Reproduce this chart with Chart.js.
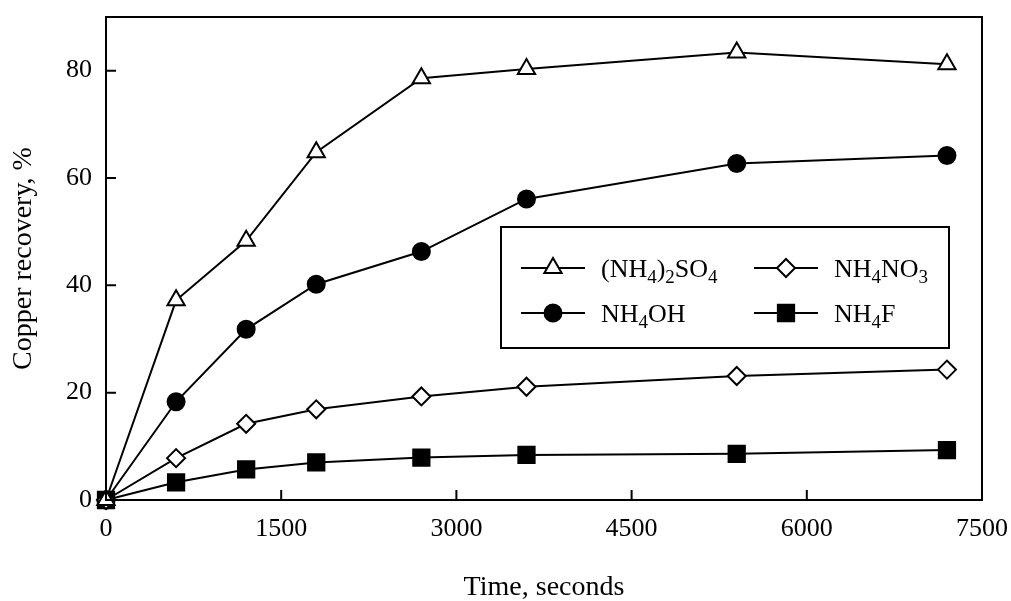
<!DOCTYPE html>
<html>
<head>
<meta charset="utf-8">
<script src="https://cdn.jsdelivr.net/npm/chart.js@4.4.1/dist/chart.umd.min.js"></script>
<style>
  html, body { margin: 0; padding: 0; background: #fff; }
  #wrap { width: 1011px; height: 601px; }
</style>
</head>
<body>
<div id="wrap"><canvas id="chart"></canvas></div>
<script>
// leaching time, seconds
const timeSec = [0, 600, 1200, 1800, 2700, 3600, 5400, 7200];

// copper recovery, %
const recSulfate = [0, 37.2, 48.3, 64.8, 78.6, 80.3, 83.4, 81.2];
const recHydroxide = [0, 18.3, 31.8, 40.2, 46.3, 56.1, 62.7, 64.2];
const recNitrate = [0, 7.8, 14.2, 16.9, 19.3, 21.1, 23.1, 24.3];
const recFluoride = [0, 3.3, 5.7, 7.0, 7.9, 8.4, 8.6, 9.3];

// "_x" marks a one-character subscript
const seriesLabels = ["(NH_4)_2SO_4", "NH_4NO_3", "NH_4OH", "NH_4F"];

const xTicks = [0, 1500, 3000, 4500, 6000, 7500];
const yTicks = [0, 20, 40, 60, 80];

const FONT = "'Liberation Serif', 'Times New Roman', serif";
const INK = "#000";

function toPoints(ys) {
  return ys.map((y, i) => ({ x: timeSec[i], y: y }));
}

function series(label, ys, style, radius, fill) {
  return {
    label: label,
    data: toPoints(ys),
    borderColor: INK,
    borderWidth: 2,
    pointStyle: style,
    pointRadius: radius,
    pointHoverRadius: radius,
    pointBackgroundColor: fill,
    pointBorderColor: INK,
    pointBorderWidth: 2,
    tension: 0,
    clip: false,
  };
}

// split "NH_4F" into runs of normal and subscript text
function parseRuns(text) {
  const runs = [];
  let buf = "";
  for (let i = 0; i < text.length; i++) {
    if (text[i] === "_" && i + 1 < text.length) {
      if (buf) runs.push({ t: buf, sub: false });
      buf = "";
      runs.push({ t: text[i + 1], sub: true });
      i++;
    } else {
      buf += text[i];
    }
  }
  if (buf) runs.push({ t: buf, sub: false });
  return runs;
}

function drawRich(ctx, text, x, y) {
  ctx.textBaseline = "alphabetic";
  ctx.textAlign = "left";
  parseRuns(text).forEach((run) => {
    ctx.font = (run.sub ? "19px " : "26px ") + FONT;
    ctx.fillText(run.t, x, run.sub ? y + 6 : y);
    x += ctx.measureText(run.t).width;
  });
}

// keep the plot box where it is, whatever the edge labels want
function noEdgePadding(scale) {
  scale.paddingTop = 0;
  scale.paddingBottom = 0;
  scale.paddingLeft = 0;
  scale.paddingRight = 0;
}

// frame around the plot area and inward tick marks
const framePlugin = {
  id: "frame",
  afterDraw(chart) {
    const { ctx, chartArea: a, scales } = chart;
    ctx.save();
    ctx.strokeStyle = INK;
    ctx.lineWidth = 2;
    ctx.strokeRect(a.left, a.top, a.right - a.left, a.bottom - a.top);
    ctx.beginPath();
    xTicks.slice(1, -1).forEach((v) => {
      const px = scales.x.getPixelForValue(v);
      ctx.moveTo(px, a.bottom);
      ctx.lineTo(px, a.bottom - 10);
    });
    yTicks.slice(1).forEach((v) => {
      const py = scales.y.getPixelForValue(v);
      ctx.moveTo(a.left, py);
      ctx.lineTo(a.left + 10, py);
    });
    ctx.stroke();
    ctx.restore();
  },
};

// boxed two-column legend inside the plot
const boxLegendPlugin = {
  id: "boxLegend",
  afterDraw(chart) {
    const { ctx } = chart;
    const box = { left: 501, top: 227, width: 448, height: 121 };
    const cols = [521, 754];
    const rows = [268, 313];
    ctx.save();
    ctx.fillStyle = "#fff";
    ctx.fillRect(box.left, box.top, box.width, box.height);
    ctx.strokeStyle = INK;
    ctx.lineWidth = 2;
    ctx.strokeRect(box.left, box.top, box.width, box.height);
    chart.data.datasets.forEach((ds, i) => {
      const x0 = cols[i % 2];
      const y0 = rows[Math.floor(i / 2)];
      ctx.strokeStyle = INK;
      ctx.lineWidth = 2;
      ctx.beginPath();
      ctx.moveTo(x0, y0);
      ctx.lineTo(x0 + 64, y0);
      ctx.stroke();
      ctx.fillStyle = ds.pointBackgroundColor;
      ctx.strokeStyle = INK;
      ctx.lineWidth = ds.pointBorderWidth;
      Chart.helpers.drawPoint(ctx, {
        pointStyle: ds.pointStyle,
        radius: ds.pointRadius,
        borderWidth: ds.pointBorderWidth,
        rotation: 0,
      }, x0 + 32, y0);
      ctx.fillStyle = INK;
      drawRich(ctx, ds.label, x0 + 80, y0 + 9);
    });
    ctx.restore();
  },
};

new Chart(document.getElementById("chart"), {
  type: "line",
  data: {
    datasets: [
      series(seriesLabels[0], recSulfate, "triangle", 10, "#fff"),
      series(seriesLabels[1], recNitrate, "rectRot", 9, "#fff"),
      series(seriesLabels[2], recHydroxide, "circle", 8.5, INK),
      series(seriesLabels[3], recFluoride, "rect", 11.5, INK),
    ],
  },
  options: {
    responsive: true,
    maintainAspectRatio: false,
    animation: false,
    events: [],
    layout: { padding: { top: 17, right: 29, left: 0, bottom: 0 } },
    plugins: {
      legend: { display: false },
      tooltip: { enabled: false },
    },
    scales: {
      x: {
        type: "linear",
        min: 0,
        max: 7500,
        afterBuildTicks: (scale) => {
          scale.ticks = xTicks.map((v) => ({ value: v }));
        },
        afterFit: (scale) => {
          scale.height = 101;
          noEdgePadding(scale);
        },
        grid: { display: false, drawTicks: false },
        border: { display: false },
        ticks: {
          color: INK,
          padding: 14,
          maxRotation: 0,
          callback: (v) => String(v),
          font: { family: FONT, size: 26 },
        },
        title: {
          display: true,
          text: "Time, seconds",
          color: INK,
          padding: { top: 0, bottom: -3 },
          font: { family: FONT, size: 28 },
        },
      },
      y: {
        type: "linear",
        min: 0,
        max: 90,
        afterBuildTicks: (scale) => {
          scale.ticks = yTicks.map((v) => ({ value: v }));
        },
        afterFit: (scale) => {
          scale.width = 106;
          noEdgePadding(scale);
        },
        grid: { display: false, drawTicks: false },
        border: { display: false },
        ticks: {
          color: INK,
          padding: 14,
          callback: (v) => String(v),
          font: { family: FONT, size: 26 },
        },
        title: {
          display: true,
          text: "Copper recovery, %",
          color: INK,
          padding: { bottom: 0, top: 7 },
          font: { family: FONT, size: 28 },
        },
      },
    },
  },
  plugins: [framePlugin, boxLegendPlugin],
});
</script>
</body>
</html>
